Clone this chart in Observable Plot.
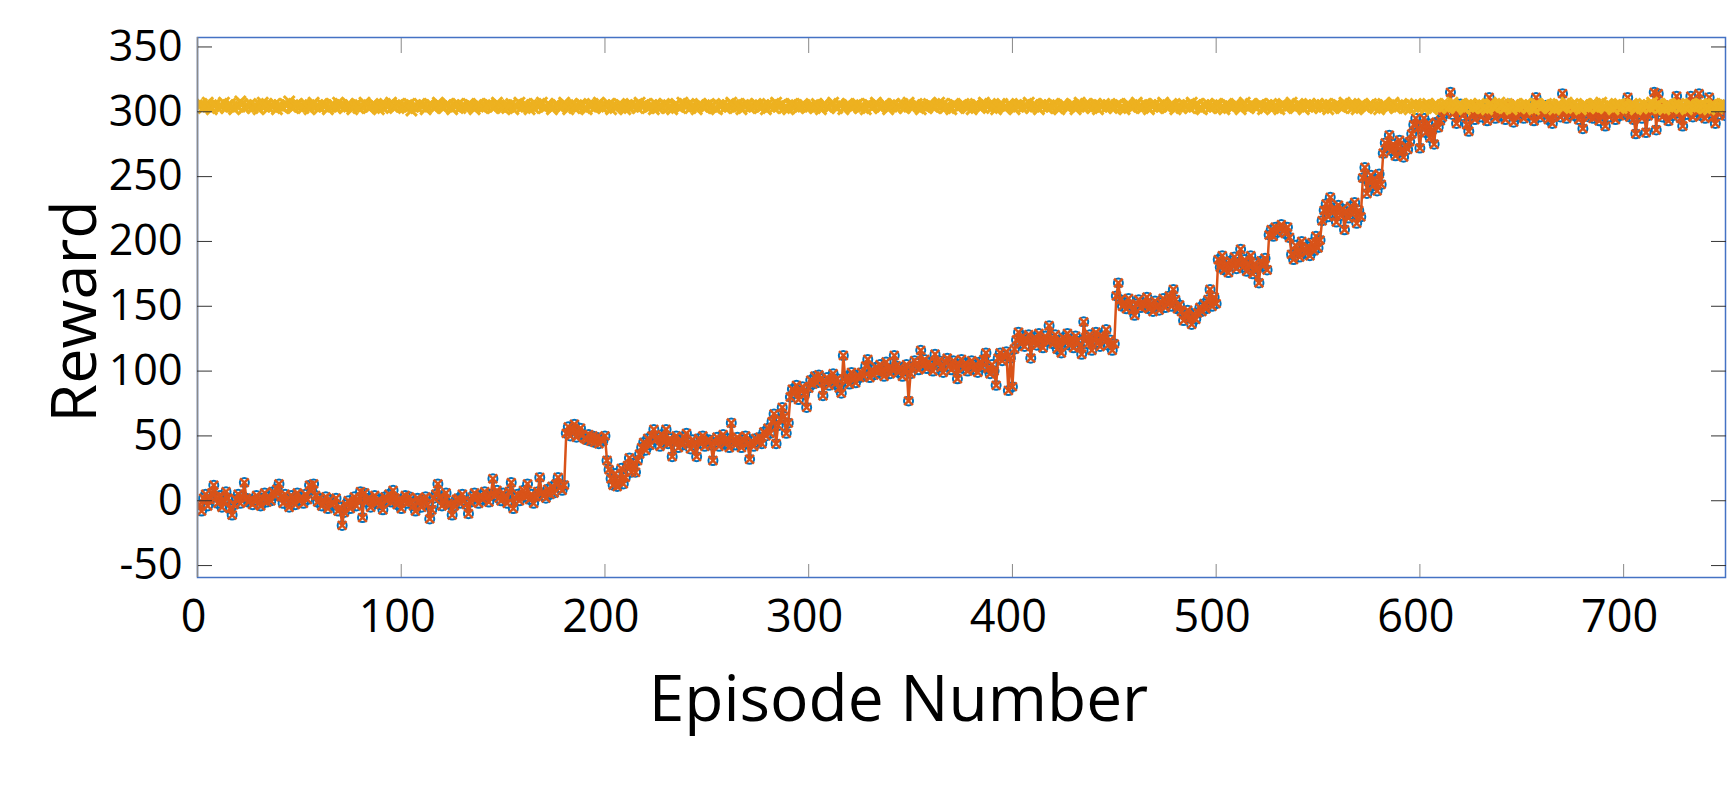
<!DOCTYPE html>
<html><head><meta charset="utf-8">
<script src="https://cdn.jsdelivr.net/npm/d3@7"></script>
<script src="https://cdn.jsdelivr.net/npm/@observablehq/plot@0.6"></script>
<style>body{margin:0;background:#fff} svg{display:block}</style>
</head><body><div id="chart"></div>
<script>
// Episode reward, episodes 1-150
const reward1 = [-3,-8,2,5,-4,1,6,12,3,-2,4,-5,0,7,2,-6,-11,-3,1,5,-2,3,14,2,-1,
1,-3,0,4,-2,-4,2,6,-1,3,0,7,4,9,13,3,-2,5,1,-5,4,2,-3,6,0,
3,-2,5,1,12,8,13,4,-1,2,-4,0,3,-6,1,-3,-2,2,-8,-5,-19,-9,-3,0,-6,
-2,3,-4,1,7,-13,6,-1,2,-5,0,4,-2,1,-3,-7,3,0,5,-1,8,2,-3,1,-6,
0,4,-2,3,-1,-4,-8,2,0,-5,1,3,-3,-14,-7,2,5,13,3,-4,0,6,-2,-3,-11,
-4,1,2,-2,5,0,-3,-10,-1,3,6,2,-2,4,1,7,3,-1,5,17,4,8,2,0,6];
// episodes 151-300
const reward2 = [3,-2,7,14,-6,2,5,0,4,8,3,13,1,5,-2,3,7,18,6,4,2,9,5,11,6,
13,18,10,8,12,
52,57,50,55,59,49,53,56,51,48,47,51,46,50,45,49,44,48,46,50,
31,24,17,12,21,11,15,25,13,18,27,33,22,29,22,31,36,41,45,39,48,43,50,55,47,
49,42,51,45,55,44,48,34,46,50,41,47,43,49,52,45,40,47,43,34,48,44,50,42,46,
47,43,31,45,49,42,46,51,44,48,41,60,47,43,49,45,41,47,50,44,32,46,42,48,45,
49,44,53,50,56,52,61,67,44,58,63,72,65,52,60,80,86,83,89,78,85,88,82,72,87];
// episodes 301-450
const reward3 = [93,90,96,91,97,94,81,92,95,89,93,98,90,94,87,83,112,92,96,90,99,94,91,97,95,
99,96,104,109,95,101,97,103,99,105,100,96,107,102,98,101,112,104,99,103,96,100,105,77,98,
103,108,106,101,116,104,109,102,107,104,100,113,106,108,103,99,107,110,104,101,108,103,94,105,109,
102,106,100,104,108,101,105,99,107,103,109,114,102,98,105,100,89,110,114,108,112,115,85,110,88,117,
124,130,121,127,119,124,128,110,122,126,120,129,124,118,127,123,135,125,121,128,117,124,114,126,
122,129,120,125,118,127,123,119,113,138,126,121,128,116,124,130,122,119,127,125,132,120,124,116,121];
// episodes 451-600
const reward4 = [158,168,155,150,153,148,156,151,147,143,152,155,149,153,150,157,148,152,146,154,150,147,153,156,149,
152,158,150,163,155,148,151,146,139,143,147,141,136,144,140,145,149,146,152,148,155,163,150,157,152,
186,180,189,178,183,176,185,181,188,179,184,194,180,186,177,182,189,175,183,179,168,185,181,187,178,
205,209,204,211,207,210,213,208,206,211,203,
190,186,197,192,188,200,194,191,196,189,199,193,204,195,201,
216,224,229,219,234,222,226,215,228,220,225,209,223,218,227,221,230,214,224,219,
249,257,237,246,251,243,248,239,252,244,
268,276,272,282,270,275,266,273,278,269,265,274,271,277,
283,290,295,287,272];
// episodes 601-750
const reward5 = [289,295,284,291,280,286,275,292,288,293,
296,302,299,305,315,298,304,291,300,306,297,303,290,
285,
297,302,294,300,305,296,299,303,293,311,298,301,295,304,300,297,302,294,299,306,298,292,301,296,303,299,
295,301,297,304,299,293,311,300,296,302,298,305,294,300,291,297,303,299,296,314,301,295,300,298,304,
297,302,294,300,287,299,303,296,301,295,305,298,293,300,297,289,302,296,304,299,294,301,297,303,298,
302,311,296,300,294,283,298,303,295,301,284,297,304,299,315,286,314,300,296,305,298,293,302,297,306,
312,299,295,289,303,298,301,312,296,304,300,314,297,302,295,303,311,299,296,291,302,298,305,300,297];

// Yellow series (~305), episodes 1-150 ... 601-750
const q0a = [304,306,303,305,307,304,302,305,306,303,305,304,307,303,305,306,304,302,305,304,308,306,303,305,304,
306,303,305,304,302,305,307,304,306,303,305,304,306,302,305,304,303,306,305,308,304,303,305,306,304,
305,303,306,304,302,305,307,304,305,303,306,304,305,302,304,306,305,303,307,304,305,303,304,306,305,
302,304,306,303,305,304,307,305,303,304,306,305,304,302,305,303,306,304,305,307,304,303,305,306,304,
305,304,303,306,301,304,305,303,306,304,305,302,304,306,305,303,304,307,305,304,303,305,306,304,302,
305,304,306,303,305,304,303,306,305,304,302,305,306,304,303,305,304,306,305,303,304,307,305,304,303];
const q0b = [305,303,304,306,302,305,304,307,303,305,306,304,302,305,303,306,304,305,307,303,304,306,305,302,304,
306,305,303,304,307,305,302,304,306,303,305,304,306,305,303,302,305,304,306,303,305,307,304,303,305,
304,306,302,305,303,304,306,305,304,302,305,303,306,304,305,303,307,304,305,306,303,304,305,302,306,
303,305,304,306,305,303,304,302,305,306,304,303,307,305,304,306,303,305,304,302,305,306,304,303,305,
306,304,305,303,302,305,304,306,303,305,304,307,305,303,306,304,302,305,304,306,303,305,304,306,305,
303,304,305,302,306,304,305,303,307,304,305,306,303,304,302,305,306,304,305,303,304,306,305,303,304];
const q0c = [304,305,303,306,304,302,305,306,304,303,305,307,304,303,306,305,302,304,306,305,303,304,305,306,303,
305,304,302,306,305,303,304,307,305,303,304,306,305,302,304,305,306,303,305,304,306,303,305,307,304,
303,305,306,304,302,305,304,303,306,305,304,303,305,307,304,306,303,305,304,302,306,305,303,304,305,
306,304,303,305,302,304,306,305,303,304,307,305,304,306,303,305,302,304,305,306,303,304,306,305,304,
302,305,304,306,303,305,304,307,303,305,306,304,302,305,304,306,303,305,304,306,305,303,302,304,306,
305,303,304,306,305,302,304,307,305,303,306,304,305,303,304,306,302,305,304,306,303,305,304,305,303];
const q0d = [305,306,303,304,302,305,306,304,303,305,307,304,305,303,306,304,302,305,304,306,303,305,304,307,305,
303,304,306,305,302,304,305,303,306,304,305,303,307,304,305,306,303,302,305,304,306,303,305,304,306,
305,303,304,302,306,305,304,303,305,306,304,302,305,307,304,303,306,305,304,303,305,306,302,304,305,
304,306,303,305,304,302,305,306,303,304,305,307,304,303,306,305,304,302,305,304,306,303,305,304,306,
303,305,304,306,302,305,303,304,306,305,304,303,307,305,304,306,303,305,302,304,305,306,304,303,305,
306,304,303,305,302,304,306,305,303,304,305,307,303,305,304,306,305,303,304,302,305,304,306,303,305];
const q0e = [304,305,303,306,304,302,305,306,304,303,305,304,306,303,305,307,304,303,305,306,304,302,305,304,306,
303,305,304,306,305,303,304,302,305,306,304,303,305,307,304,306,303,305,304,302,305,306,304,303,305,
304,306,303,305,304,302,306,305,303,304,305,306,304,303,305,302,304,306,305,303,304,307,305,304,306,
303,305,304,302,305,306,304,303,305,304,306,303,305,307,304,303,306,305,304,302,305,304,306,303,305,
305,303,304,306,305,302,304,305,303,306,304,305,303,307,304,305,306,303,304,302,305,306,304,303,305,
304,306,303,305,304,302,305,306,304,303,305,304,306,305,303,304,302,305,306,304,303,305,304,306,305];

const xTicks = [0,100,200,300,400,500,600,700];
const yTicks = [-50,0,50,100,150,200,250,300,350];
const xLabel = "Episode Number";
const yLabel = "Reward";

const reward = [...reward1, ...reward2, ...reward3, ...reward4, ...reward5];
const q0 = [...q0a, ...q0b, ...q0c, ...q0d, ...q0e];
const rows = reward.map((r, i) => ({ep: i + 1, reward: r, q0: q0[i]}));

const font = "'Open Sans', sans-serif";
const chart = Plot.plot({
  width: 1728, height: 785,
  marginLeft: 197, marginRight: 3, marginTop: 37, marginBottom: 208,
  x: {domain: [0, 750]},
  y: {domain: [-59.2, 357.3]},
  style: {fontFamily: font, background: "#fff"},
  marks: [
    Plot.dot(rows, {x: "ep", y: "reward", r: 4.5, stroke: "#0072BD", strokeWidth: 2, clip: true}),
    Plot.line(rows, {x: "ep", y: "reward", stroke: "#D95319", strokeWidth: 2.5, clip: true}),
    Plot.dot(rows, {x: "ep", y: "reward", symbol: "times", r: 4, stroke: "#D95319", strokeWidth: 2.5, clip: true}),
    Plot.line(rows, {x: "ep", y: "q0", stroke: "#EDB120", strokeWidth: 3, clip: true}),
    Plot.dot(rows, {x: "ep", y: "q0", symbol: "times", r: 5, stroke: "#EDB120", strokeWidth: 3, clip: true}),
    Plot.frame({stroke: "#4472C4", strokeWidth: 1.5}),
    Plot.ruleX([0], {stroke: "#8a8a8a", strokeWidth: 1.5}),
    // inward ticks on all four sides
    Plot.axisY(yTicks, {anchor: "left", tickSize: 15, dx: 15, tickFormat: () => "", label: null, color: "#333"}),
    Plot.axisY(yTicks, {anchor: "right", tickSize: 15, dx: -15, tickFormat: () => "", label: null, color: "#333"}),
    Plot.axisX(xTicks, {anchor: "bottom", tickSize: 13, dy: -13, tickFormat: () => "", label: null, color: "#888"}),
    Plot.axisX(xTicks, {anchor: "top", tickSize: 15, dy: 15, tickFormat: () => "", label: null, color: "#888"}),
    // tick labels
    Plot.axisY(yTicks, {anchor: "left", tickSize: 0, tickPadding: 15, fontSize: 43, label: null, color: "#000", tickFormat: d => String(d)}),
    Plot.axisX(xTicks, {anchor: "bottom", tickSize: 0, tickPadding: 23, fontSize: 45, label: null, color: "#000", dx: -4, tickFormat: d => String(d)}),
    // axis titles
    Plot.text([yLabel], {frameAnchor: "left", rotate: -90, dx: -102, dy: 4, fontSize: 63, lineAnchor: "bottom", textAnchor: "middle", fill: "#000"}),
    Plot.text([xLabel], {frameAnchor: "bottom", dx: -63, dy: 143, fontSize: 64, lineAnchor: "bottom", textAnchor: "middle", fill: "#000"})
  ]
});
document.getElementById("chart").append(chart);
</script>
</body></html>
